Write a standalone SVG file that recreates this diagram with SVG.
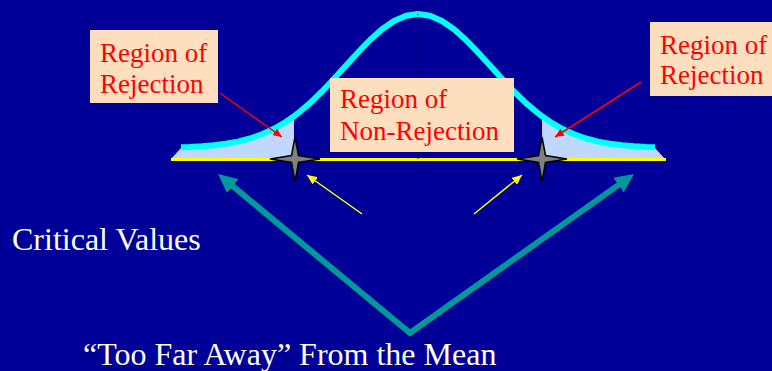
<svg xmlns="http://www.w3.org/2000/svg" width="772" height="371" viewBox="0 0 772 371">
<defs>
<style>
.box{fill:#FDDFBF;}
.lbl{font-family:"Liberation Serif","Times New Roman",serif;font-size:27px;fill:#FF0000;}
.wt{font-family:"Liberation Serif","Times New Roman",serif;font-size:32px;fill:#FFFFFF;}
.tail{fill:#C0D8FF;}
.star{fill:#808080;stroke:#000000;stroke-width:1.5;stroke-linejoin:miter;}
.red{stroke:#FF0000;stroke-width:1.5;fill:none;}
.yel{stroke:#FFFF00;stroke-width:1.5;fill:none;}
.teal{stroke:#009999;stroke-width:6;fill:none;stroke-linejoin:miter;}
</style>
<marker id="mRed" markerUnits="userSpaceOnUse" markerWidth="10" markerHeight="8" refX="9" refY="4" orient="auto"><path d="M0,0 L9,4 L0,8 Z" fill="#FF0000"/></marker>
<marker id="mYel" markerUnits="userSpaceOnUse" markerWidth="11" markerHeight="9" refX="10" refY="4.5" orient="auto"><path d="M0,0 L10,4.5 L0,9 Z" fill="#FFFF00"/></marker>
<marker id="mTeal" markerUnits="userSpaceOnUse" markerWidth="20" markerHeight="18" refX="1" refY="9" orient="auto-start-reverse"><path d="M0,0 L19,9 L0,18 Z" fill="#009999"/></marker>
</defs>
<rect x="0" y="0" width="772" height="371" fill="#000099"/>
<g id="tails">
<path class="tail" d="M171,159 L181,148 L190,147 L202,146.3 L214,145.3 L226,143.8 L238,141.6 L250,138.5 L262,134.3 L274,128.8 L286,121.8 L294,116.3 L294,159 Z"/>
<path class="tail" d="M542,116.3 L550,121.8 L562,128.8 L574,134.3 L586,138.5 L598,141.6 L610,143.8 L622,145.3 L634,146.3 L646,147 L655,148 L665,159 L542,159 Z"/>
</g>
<g id="baseline"><line x1="171" y1="159.5" x2="666" y2="159.5" stroke="#FFFF00" stroke-width="3"/></g>
<g id="curve">
<polyline fill="none" stroke="#00FFFF" stroke-width="6" stroke-linejoin="round" points="181,147.3 190,147 202,146.3 214,145.3 226,143.8 238,141.6 250,138.5 262,134.3 274,128.8 286,121.8 294,116.3 298,113.2 310,103.1 322,91.5 334,78.8 346,65.6 358,52.4 370,40 382,29.3 394,21.1 406,15.8 418,14 430,15.8 442,21.1 454,29.3 466,40 478,52.4 490,65.6 502,78.8 514,91.5 526,103.1 538,113.2 542,116.3 550,121.8 562,128.8 574,134.3 586,138.5 598,141.6 610,143.8 622,145.3 634,146.3 646,147 655,147.3"/>
</g>
<g id="mean-line"><line x1="418" y1="14" x2="418" y2="160" stroke="#000000" stroke-width="1" stroke-dasharray="1,2"/></g>
<g id="star-left"><path class="star" d="M295,137 L298.5,155.5 L320,159 L298.5,162.5 L295,182 L291.5,162.5 L270,159 L291.5,155.5 Z"/></g>
<g id="star-right"><path class="star" d="M542,137 L545.5,155.5 L567,159 L545.5,162.5 L542,182 L538.5,162.5 L517,159 L538.5,155.5 Z"/></g>
<g id="box-left">
<rect class="box" x="90" y="30" width="128" height="73"/>
<text class="lbl" x="100" y="62">Region of</text>
<text class="lbl" x="100" y="93">Rejection</text>
</g>
<g id="box-right">
<rect class="box" x="650" y="22" width="122" height="74"/>
<text class="lbl" x="660" y="54">Region of</text>
<text class="lbl" x="660" y="84">Rejection</text>
</g>
<g id="box-middle">
<rect class="box" x="330" y="78" width="184" height="74"/>
<text class="lbl" x="340" y="108">Region of</text>
<text class="lbl" x="340" y="140">Non-Rejection</text>
</g>
<g id="label-critical"><text class="wt" x="12" y="250">Critical Values</text></g>
<g id="label-far"><text class="wt" x="83" y="365">“Too Far Away” From the Mean</text></g>
<g id="connectors">
<line class="red" x1="220" y1="93" x2="282" y2="137" marker-end="url(#mRed)"/>
<line class="red" x1="641" y1="82" x2="555" y2="137" marker-end="url(#mRed)"/>
<line class="yel" x1="362" y1="214" x2="307" y2="175" marker-end="url(#mYel)"/>
<line class="yel" x1="474" y1="214" x2="522" y2="175" marker-end="url(#mYel)"/>
<path class="teal" d="M232,185.5 L410,333 L619.3,184.4" marker-start="url(#mTeal)" marker-end="url(#mTeal)"/>
</g>
</svg>
